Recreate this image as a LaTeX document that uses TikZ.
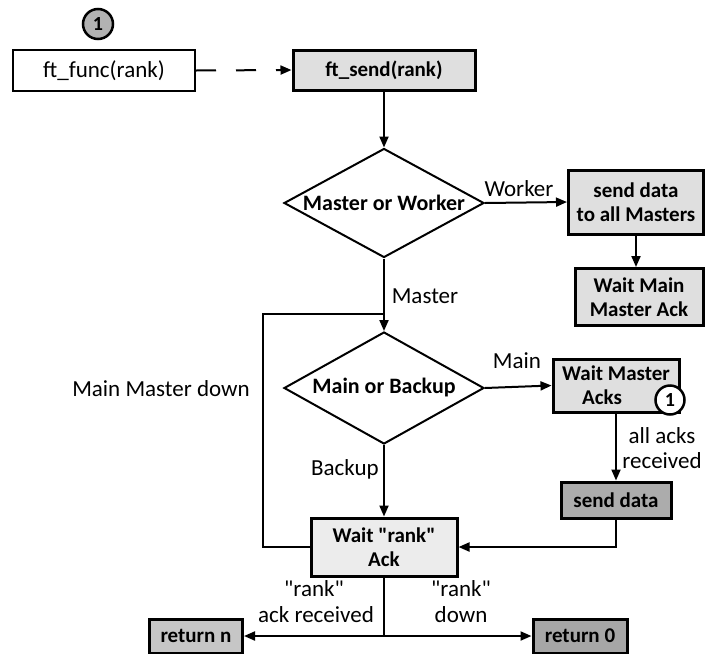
\documentclass[tikz,border=0pt]{standalone}
\usepackage{fontspec}
\setmainfont{Carlito}
\usetikzlibrary{arrows.meta,shapes.geometric}
\begin{document}
\begin{tikzpicture}[x=1pt,y=-1pt,
  lbl/.style={font=\fontsize{23}{26}\selectfont, inner sep=0, align=center},
  plainbox/.style={draw, line width=2pt, inner sep=0, font=\fontsize{23}{26}\selectfont},
  shbox/.style={draw, line width=3pt, fill=gray!25, inner sep=0, align=center, font=\bfseries\fontsize{21}{24}\selectfont},
  dec/.style={diamond, draw, line width=2pt, inner sep=0},
  dtext/.style={font=\bfseries\fontsize{22}{24}\selectfont, inner sep=0},
  conn/.style={line width=2pt},
  arr/.style={conn, -{Triangle[length=11pt,width=9pt]}},
  numc/.style={circle, draw, line width=2.5pt, minimum size=30pt, inner sep=0, font=\bfseries\fontsize{20}{20}\selectfont}]
\useasboundingbox (0,0) rectangle (705,654);

% top
\node[numc, fill=gray!60] (n1) at (98,24) {1};
\node[plainbox, minimum width=182pt, minimum height=41pt] (ff) at (104,70.5) {ft\_func(rank)};
\node[shbox, minimum width=182pt, minimum height=40pt] (fs) at (384,70) {ft\_send(rank)};

% first decision
\node[dec, minimum width=200pt, minimum height=109pt] (d1) at (384,203) {};
\node[dtext] (d1t) at (d1) {Master or Worker};
\node[shbox, minimum width=135pt, minimum height=64pt] (sa) at (636,202) {send data\\to all Masters};
\node[shbox, minimum width=128pt, minimum height=57pt] (wm) at (639,297) {Wait Main\\Master Ack};

% second decision
\node[dec, minimum width=200pt, minimum height=112pt] (d2) at (384,388) {};
\node[dtext] (d2t) at (d2) {Main or Backup};
\node[shbox, minimum width=126pt, minimum height=53pt] (wa) at (616,385.5) {Wait Master\\Acks\hspace*{28pt}};
\node[numc, fill=white, minimum size=29pt] (n2) at (670,400) {1};
\node[shbox, fill=gray!65, minimum width=110pt, minimum height=36pt] (sd) at (616,500) {send data};

% wait rank ack
\node[shbox, fill=gray!15, minimum width=146pt, minimum height=58pt] (wr) at (384,547) {Wait \textquotedbl rank\textquotedbl\\Ack};
\node[shbox, fill=gray!45, minimum width=93pt, minimum height=34pt] (rn) at (196,636) {return n};
\node[shbox, fill=gray!70, minimum width=94pt, minimum height=34pt] (r0) at (580,636) {return 0};

% labels
\node[lbl] (lw) at (519,189) {Worker};
\node[lbl] (lm) at (425,296) {Master};
\node[lbl] (lmd) at (161,389) {Main Master down};
\node[lbl] (lmain) at (517,361) {Main};
\node[lbl] (lb) at (345,469) {Backup};
\node[lbl] (la1) at (662,436) {all acks};
\node[lbl] (la2) at (662,461) {received};
\node[lbl] (lr1) at (314,589) {\textquotedbl rank\textquotedbl};
\node[lbl] (lr2) at (316,615) {ack received};
\node[lbl] (lr3) at (461,589) {\textquotedbl rank\textquotedbl};
\node[lbl] (lr4) at (461,615) {down};

% connectors
\draw[arr, dash pattern=on 20pt off 20pt] (ff.east) -- (fs.west);
\draw[arr] (fs.south) -- (d1.north);
\draw[arr] (d1.east) -- (sa.west);
\draw[arr] (sa.south) -- (sa.south |- wm.north);
\draw[arr] (d1.south) -- (d2.north);
\coordinate (lp) at (263,314);
\coordinate (jn) at (384,314);
\draw[conn] (wr.west) -| (lp) -- (jn);
\draw[arr] (d2.east) -- (wa.west);
\draw[arr] (wa.south) -- (sd.north);
\draw[arr] (d2.south) -- (wr.north);
\draw[arr] (sd.south) |- (wr.east);
\coordinate (sp) at (384,636);
\draw[conn] (wr.south) -- (sp);
\draw[arr] (sp) -- (rn.east);
\draw[arr] (sp) -- (r0.west);
\end{tikzpicture}
\end{document}
